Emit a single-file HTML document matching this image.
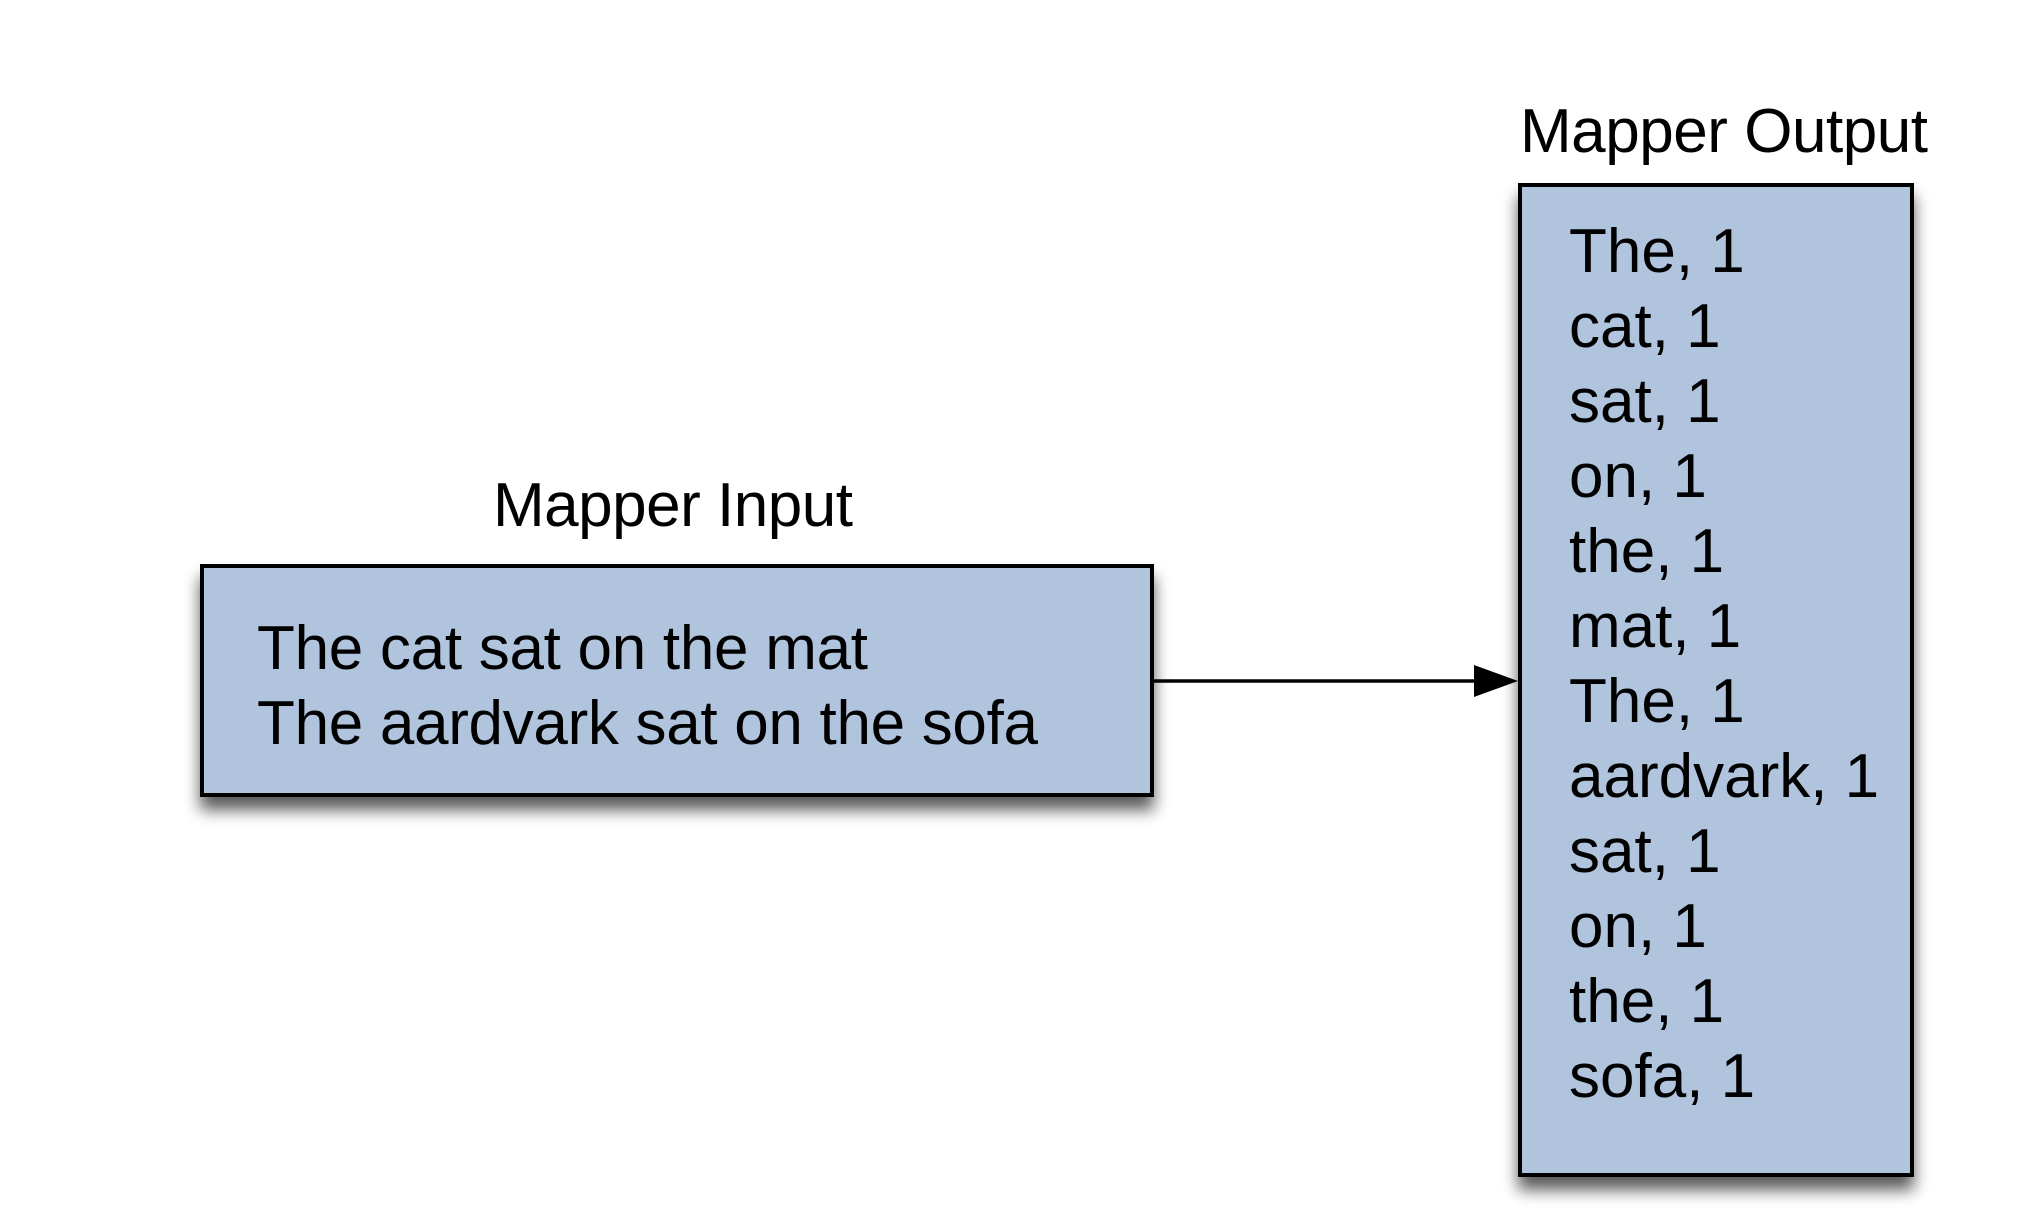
<!DOCTYPE html>
<html><head><style>html,body{margin:0;padding:0;background:#fff;}svg{display:block}</style></head>
<body>
<svg width="2018" height="1214" viewBox="0 0 2018 1214" xmlns="http://www.w3.org/2000/svg">
<defs>
<filter id="sh" x="-10%" y="-10%" width="120%" height="130%">
<feGaussianBlur in="SourceAlpha" stdDeviation="8"/>
<feOffset dx="0" dy="13" result="b"/>
<feComponentTransfer><feFuncA type="linear" slope="0.65"/></feComponentTransfer>
<feMerge><feMergeNode/><feMergeNode in="SourceGraphic"/></feMerge>
</filter>
</defs>
<g font-family="Liberation Sans, Arial, sans-serif" fill="#000">
<text x="673" y="526" font-size="62" text-anchor="middle" textLength="360">Mapper Input</text>
<text x="1520" y="152" font-size="62" textLength="408">Mapper Output</text>
</g>
<rect x="202" y="566" width="950" height="229" fill="#b0c4de" stroke="#000" stroke-width="4" filter="url(#sh)"/>
<rect x="1520" y="185" width="392" height="990" fill="#b0c4de" stroke="#000" stroke-width="4" filter="url(#sh)"/>
<line x1="1152" y1="681" x2="1478" y2="681" stroke="#000" stroke-width="3.5"/>
<polygon points="1474,665 1518,681 1474,697" fill="#000"/>
<g font-family="Liberation Sans, Arial, sans-serif" font-size="62" fill="#000">
<text x="257" y="669" textLength="611">The cat sat on the mat</text>
<text x="257" y="744" textLength="781">The aardvark sat on the sofa</text>
<text x="1569" y="272">The, 1</text>
<text x="1569" y="347">cat, 1</text>
<text x="1569" y="422">sat, 1</text>
<text x="1569" y="497">on, 1</text>
<text x="1569" y="572">the, 1</text>
<text x="1569" y="647">mat, 1</text>
<text x="1569" y="722">The, 1</text>
<text x="1569" y="797">aardvark, 1</text>
<text x="1569" y="872">sat, 1</text>
<text x="1569" y="947">on, 1</text>
<text x="1569" y="1022">the, 1</text>
<text x="1569" y="1097">sofa, 1</text>
</g>
</svg>
</body></html>
